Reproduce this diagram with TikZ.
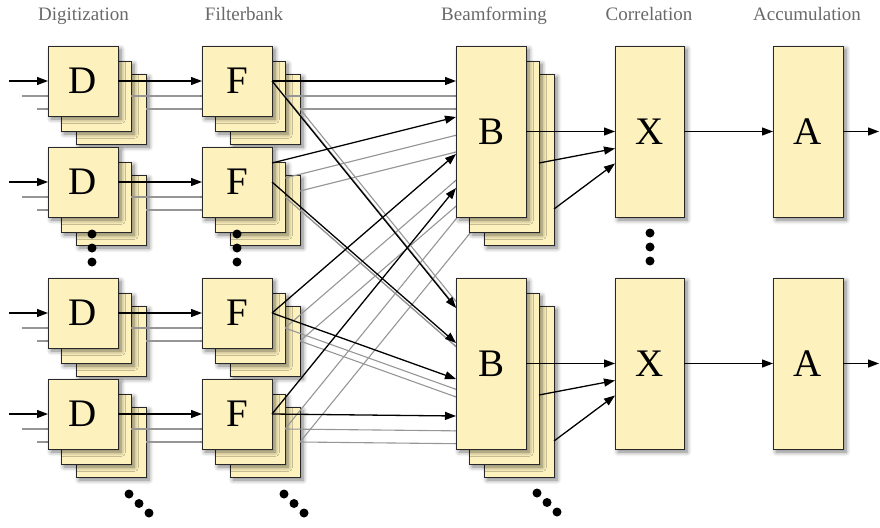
\documentclass[tikz,border=0pt]{standalone}
\usepackage{fontspec}
\setmainfont{Liberation Serif}
\usetikzlibrary{arrows.meta,shadows.blur}

\definecolor{unitfill}{RGB}{253,242,190}
\definecolor{unitedge}{RGB}{40,40,40}
\definecolor{ghostgray}{RGB}{150,150,150}
\definecolor{titlegray}{RGB}{105,105,105}

\tikzset{
  unit/.style={draw=unitedge, fill=unitfill, line width=0.9pt,
    inner sep=0pt, outer sep=0pt, anchor=north west,
    font=\fontsize{39}{39}\selectfont,
    blur shadow={shadow xshift=3pt, shadow yshift=-3pt,
      shadow blur radius=4.5pt, shadow blur steps=6, shadow opacity=50}},
  feed/.style={line width=1.3pt, draw=black,
    -{Triangle[length=11pt,width=8pt]}},
  ghost/.style={line width=1.1pt, draw=ghostgray,
    -{Triangle[length=11pt,width=8pt]}},
  stage/.style={anchor=base, text=titlegray,
    font=\fontsize{19}{19}\selectfont},
  dot/.style={fill=black}
}

% one box of a stack: name, left, top, width, height, letter
\newcommand\ubox[6]{%
  \node[unit, minimum width=#4pt, minimum height=#5pt] (#1) at (#2,#3) {#6};}

\begin{document}
\begin{tikzpicture}[x=1pt,y=-1pt]
\useasboundingbox (0,0) rectangle (880,527);

% stage titles
\node[stage] (t-dig) at (83.5,20.7) {Digitization};
\node[stage] (t-fil) at (244,20.7)  {Filterbank};
\node[stage] (t-bea) at (494,20.7)  {Beamforming};
\node[stage] (t-cor) at (649,20.7)  {Correlation};
\node[stage] (t-acc) at (807,20.7)  {Accumulation};

% hidden layers of every stack, back to front, each with its grey feeds
\foreach \k/\dx/\dy in {3/28/28, 2/13/15} {
  \foreach \r/\top in {1/46, 2/147, 3/278, 4/379} {
    \ubox{d\r-\k}{48+\dx}{\top+\dy}{70}{70}{}
    \ubox{f\r-\k}{202+\dx}{\top+\dy}{70}{70}{}
  }
  \foreach \s/\top in {1/46, 2/278} {
    \ubox{b\s-\k}{456+\dx}{\top+\dy}{70}{171}{}
  }
  \foreach \r in {1,2,3,4} {
    \draw[ghost] ([xshift=-39pt]d\r-\k.west) -- (d\r-\k.west);
    \draw[ghost] (d\r-\k.east) -- (f\r-\k.west);
  }
  \foreach \r/\s/\ps/\pe in {1/1/35/35, 1/2/35/30, 2/1/16/71, 2/2/35/65,
                             3/1/35/108, 3/2/35/101, 4/1/35/142, 4/2/35/138} {
    \draw[ghost] ([yshift=-\ps pt]f\r-\k.north east)
              -- ([yshift=-\pe pt]b\s-\k.north west);
  }
}

% front layer of each stack
\foreach \r/\top in {1/46, 2/147, 3/278, 4/379} {
  \ubox{d\r-1}{48}{\top}{70}{70}{D}
  \ubox{f\r-1}{202}{\top}{70}{70}{F}
}
\foreach \s/\top in {1/46, 2/278} {
  \ubox{b\s-1}{456}{\top}{70}{171}{B}
  \ubox{x\s}{615}{\top}{69}{171}{X}
  \ubox{a\s}{773}{\top}{70}{171}{A}
}

% signal path of the front layer
\foreach \r in {1,2,3,4} {
  \draw[feed] ([xshift=-39pt]d\r-1.west) -- (d\r-1.west);
  \draw[feed] (d\r-1.east) -- (f\r-1.west);
}
\foreach \r/\s/\ps/\pe in {1/1/35/35, 1/2/35/30, 2/1/16/71, 2/2/35/65,
                           3/1/35/108, 3/2/35/101, 4/1/35/142, 4/2/35/138} {
  \draw[feed] ([yshift=-\ps pt]f\r-1.north east)
           -- ([yshift=-\pe pt]b\s-1.north west);
}
\foreach \s in {1,2} {
  \draw[feed] (b\s-1.east) -- (x\s.west);
  \draw[feed] ([yshift=-102pt]b\s-2.north east) -- ([yshift=-17pt]x\s.west);
  \draw[feed] ([yshift=-135pt]b\s-3.north east) -- ([yshift=-32pt]x\s.west);
  \draw[feed] (x\s.east) -- (a\s.west);
  \draw[feed] (a\s.east) -- ([xshift=36pt]a\s.east);
}

% ellipsis dots
\foreach \cx in {92, 237} {
  \foreach \cy in {234, 248, 262} { \fill[dot] (\cx,\cy) circle (4.5pt); }
}
\foreach \cy in {233, 247, 261} { \fill[dot] (650,\cy) circle (4.5pt); }
\foreach \cx/\cy in {129/494, 284/494, 537/493} {
  \fill[dot] (\cx,\cy) circle (4.5pt);
  \fill[dot] (\cx+10,\cy+9.5) circle (4.5pt);
  \fill[dot] (\cx+20,\cy+19) circle (4.5pt);
}
\end{tikzpicture}
\end{document}
